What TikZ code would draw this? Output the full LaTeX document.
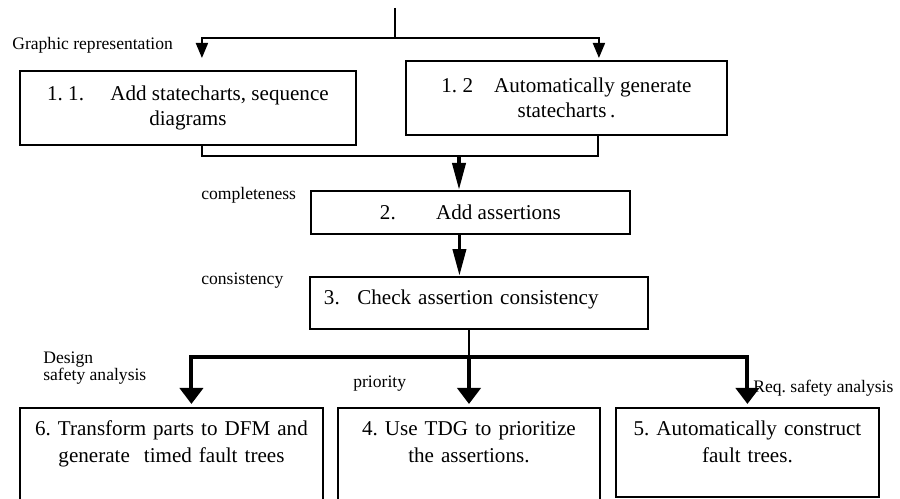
\documentclass[tikz,border=0pt]{standalone}
\usepackage{fontspec}
\setmainfont{Liberation Serif}
\usetikzlibrary{positioning, arrows.meta, calc}
\frenchspacing

\begin{document}
\begin{tikzpicture}[
    x=0.02cm, y=-0.02cm,
    stepbox/.style={draw, rectangle, line width=1.1pt, anchor=north west, align=center, inner sep=0pt, font=\fontsize{12}{14.5}\selectfont},
    lowbox/.style={stepbox, inner xsep=0.1cm, inner ysep=0pt, text height=15.9pt, font=\fontsize{12}{15.4}\selectfont},
    lbl/.style={inner sep=0pt, anchor=base west, align=left, font=\fontsize{10}{8.6}\selectfont},
    thinline/.style={line width=1.1pt},
    toparrow/.style={line width=1.1pt, -{Triangle[length=0.3cm, width=0.24cm]}},
    midarrow/.style={line width=2.2pt, -{Triangle[length=0.54cm, width=0.26cm]}},
    bigarrow/.style={line width=2.3pt, -{Triangle[length=0.32cm, width=0.46cm]}}
]

\useasboundingbox (0,0) rectangle (900,499);

% Graphic representation
\node[stepbox, minimum width=6.72cm, minimum height=1.48cm] (b11) at (19,70) {1. 1.\hspace{15pt}Add statecharts, sequence\\diagrams};
\node[stepbox, minimum width=6.42cm, minimum height=1.48cm] (b12) at (405,60) {1. 2\hspace{12pt}Automatically generate\\statecharts\,.};
\node[lbl] (graphic) at (12,50) {Graphic representation};

\coordinate (src) at (395,8);
\coordinate (fork) at (395,38);
\draw[thinline] (src) -- (fork);
\draw[toparrow, shorten >=0.24cm] (fork) -| ([xshift=0.28cm]b11.north);
\draw[toparrow, shorten >=0.04cm] (fork) -| ([xshift=0.65cm]b12.north);

% Completeness
\node[stepbox, minimum width=6.38cm, minimum height=0.86cm] (b2) at (310,190) {2.\hspace{23pt}Add assertions};
\node[lbl] (complete) at (201,200) {completeness};
\coordinate (merge) at (459,156);
\draw[thinline] ([xshift=0.28cm]b11.south) |- (merge) -| ([xshift=0.64cm]b12.south);
\draw[midarrow] (merge) -- (merge |- b2.north);

% Consistency
\node[stepbox, text width=6.2cm, inner xsep=0.28cm, align=left, text height=15.4pt, text depth=14.2pt] (b3) at (309,276) {3.\hspace{10pt}Check assertion consistency};
\node[lbl] (consist) at (201,285) {consistency};
\draw[midarrow] ([xshift=-0.22cm]b2.south) -- ([xshift=-0.22cm]b2.south |- b3.north);

% Safety analysis and priority
\node[lowbox, text width=5.86cm, text depth=46.7pt] (b6) at (19,407) {6. Transform parts to DFM and\\generate\ \ timed fault trees};
\node[lowbox, text width=5.04cm, text depth=46.7pt] (b4) at (337,407) {4. Use TDG to prioritize\\the assertions.};
\node[lowbox, text width=5.06cm, text depth=34.7pt] (b5) at (615,407) {5. Automatically construct\\fault trees.};
\node[lbl] (design) at (43,381) {Design\\safety analysis};
\node[lbl] (prio) at (353,388) {priority};
\node[lbl] (req) at (753,393) {Req. safety analysis};

\coordinate (fork2) at (469,357);
\draw[thinline] (b3.south -| fork2) -- (fork2);
\draw[bigarrow, shorten >=0.06cm] (fork2) -| ([xshift=0.4cm]b6.north);
\draw[bigarrow, shorten >=0.06cm] (fork2) -- (fork2 |- b4.north);
\draw[bigarrow, shorten >=0.06cm] (fork2) -| (b5.north);

\end{tikzpicture}
\end{document}
